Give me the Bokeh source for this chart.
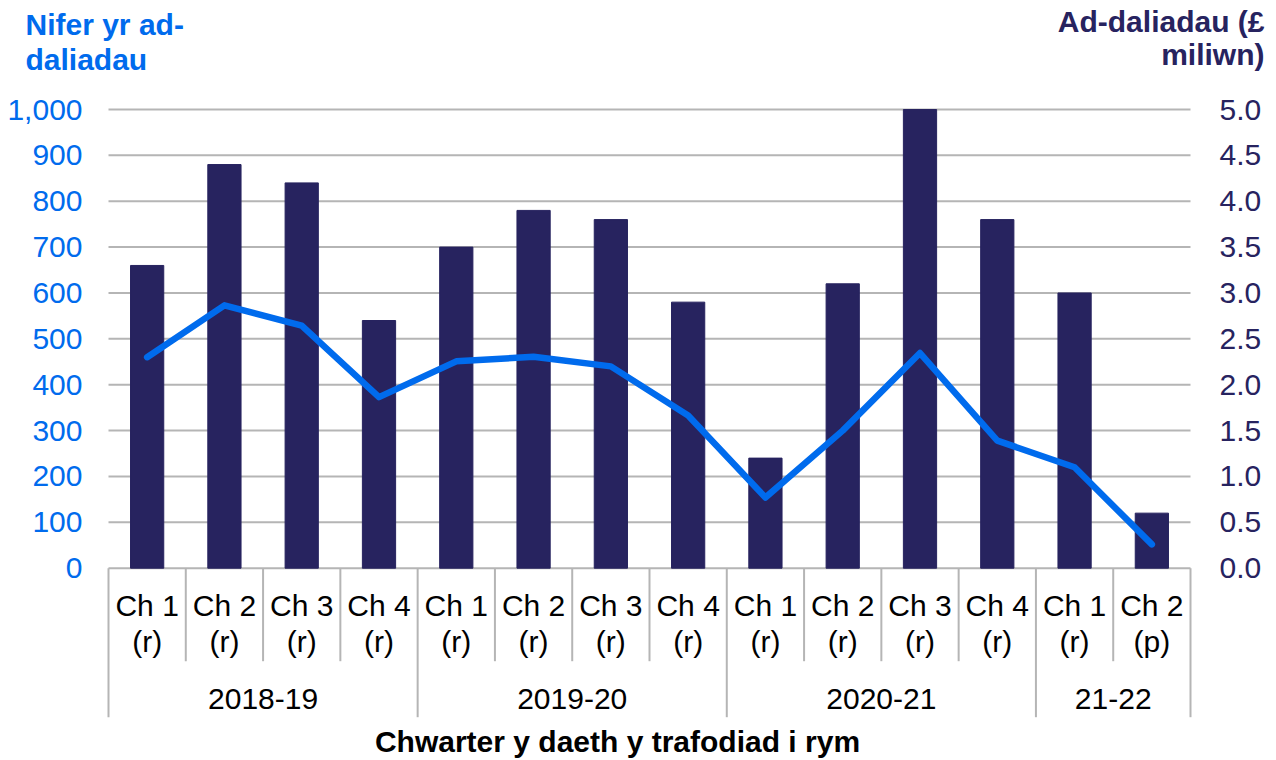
from bokeh.plotting import figure
from bokeh.models import Range1d, LinearAxis, FixedTicker, NumeralTickFormatter
from bokeh.core.properties import value
from bokeh.embed import file_html
from bokeh.resources import INLINE

# ---- data ----
quarters = ["Ch 1", "Ch 2", "Ch 3", "Ch 4", "Ch 1", "Ch 2", "Ch 3", "Ch 4",
            "Ch 1", "Ch 2", "Ch 3", "Ch 4", "Ch 1", "Ch 2"]
status = ["(r)", "(r)", "(r)", "(r)", "(r)", "(r)", "(r)", "(r)",
          "(r)", "(r)", "(r)", "(r)", "(r)", "(p)"]
years = ["2018-19", "2019-20", "2020-21", "21-22"]
quarters_per_year = [4, 4, 4, 2]
payments_gbp_m = [3.3, 4.4, 4.2, 2.7, 3.5, 3.9, 3.8, 2.9, 1.2, 3.1, 5.0, 3.8, 3.0, 0.6]
payment_counts = [460, 573, 529, 373, 451, 461, 440, 333, 154, 300, 469, 278, 220, 52]
count_ticks = [0, 100, 200, 300, 400, 500, 600, 700, 800, 900, 1000]
money_ticks = [0.0, 0.5, 1.0, 1.5, 2.0, 2.5, 3.0, 3.5, 4.0, 4.5, 5.0]

left_title = ["Nifer yr ad-", "daliadau"]
right_title = ["Ad-daliadau (£", "miliwn)"]
x_title = "Chwarter y daeth y trafodiad i rym"

# ---- styling ----
BLUE = "#006BED"
NAVY = "#27235F"
GRID = "#B5B5B5"
FONT = "Liberation Sans"
W, H = 1276, 760

n = len(quarters)
centers = [i + 0.5 for i in range(n)]

# layout helpers (canvas pixel -> data units)
PLOT_LEFT, PLOT_RIGHT = 108, 1190
CAT_W = (PLOT_RIGHT - PLOT_LEFT) / n
PX_PER_UNIT = 0.4587
ZERO_Y = 567.7
TEXT_DY = 12  # text glyph baseline correction (px)
def yv(py):
    return (ZERO_Y - py) / PX_PER_UNIT
def ytxt(py):
    return yv(py - TEXT_DY)
def xv(px):
    return (px - PLOT_LEFT) / CAT_W

p = figure(width=W, height=H,
           x_range=Range1d(xv(0), xv(W)), y_range=Range1d(yv(H), yv(0)),
           output_backend="svg", toolbar_location=None, x_axis_location=None,
           min_border=0, min_border_left=0, min_border_right=0,
           min_border_top=0, min_border_bottom=0)
p.outline_line_color = None
p.background_fill_color = "white"
p.border_fill_color = "white"
p.xgrid.visible = False
p.ygrid.visible = False

p.extra_y_ranges = {"money": Range1d(yv(H) / 200, yv(0) / 200)}

# left axis (count)
ya = p.yaxis[0]
ya.fixed_location = 0
ya.ticker = FixedTicker(ticks=count_ticks)
ya.formatter = NumeralTickFormatter(format="0,0")
ya.axis_line_color = None
ya.major_tick_line_color = None
ya.minor_tick_line_color = None
ya.major_tick_out = 0
ya.major_tick_in = 0
ya.major_label_standoff = 26
ya.major_label_text_font = FONT
ya.major_label_text_font_size = "30px"
ya.major_label_text_color = BLUE

# right axis (£ million)
ra = LinearAxis(y_range_name="money", ticker=FixedTicker(ticks=money_ticks),
                formatter=NumeralTickFormatter(format="0.0"), fixed_location=n)
ra.axis_line_color = None
ra.major_tick_line_color = None
ra.minor_tick_line_color = None
ra.major_tick_out = 0
ra.major_tick_in = 0
ra.major_label_standoff = 29
ra.major_label_text_font = FONT
ra.major_label_text_font_size = "30px"
ra.major_label_text_color = NAVY
p.add_layout(ra, "right")

# horizontal grid lines at the count ticks
p.segment(x0=0, x1=n, y0=count_ticks, y1=count_ticks, line_color=GRID, line_width=2)

# bars (right axis)
p.vbar(x=centers, top=payments_gbp_m, bottom=0, width=0.43, y_range_name="money",
       fill_color=NAVY, line_color=NAVY, line_width=1)

# line (left axis)
p.line(centers, payment_counts, line_color=BLUE, line_width=6.5,
       line_join="round", line_cap="round")

# category separators
year_bounds = [0]
for q in quarters_per_year:
    year_bounds.append(year_bounds[-1] + q)
short_b = [b for b in range(1, n) if b not in year_bounds]
p.segment(x0=short_b, y0=0, x1=short_b, y1=yv(660.7), line_color=GRID, line_width=2)
p.segment(x0=year_bounds, y0=0, x1=year_bounds, y1=yv(716.7), line_color=GRID, line_width=2)

def txt(x, y, t, color="black", bold=False, align="center"):
    p.text(x=x, y=y, text=t, text_font=value(FONT), text_font_size=value("30px"),
           text_font_style="bold" if bold else "normal",
           text_align=align, text_baseline="alphabetic", text_color=color)

# category labels
txt(centers, [ytxt(616.5)] * n, quarters)
txt(centers, [ytxt(653)] * n, status)
year_centers = [(year_bounds[i] + year_bounds[i + 1]) / 2 for i in range(len(years))]
txt(year_centers, [ytxt(710)] * len(years), years)

# titles
txt([xv(25)] * 2, [ytxt(36), ytxt(71)], left_title, color=BLUE, bold=True, align="left")
txt([xv(1264)] * 2, [ytxt(33), ytxt(66)], right_title, color=NAVY, bold=True, align="right")
txt([xv(617)], [ytxt(752.5)], [x_title], bold=True)

open("out.html", "w").write(file_html(p, INLINE))
